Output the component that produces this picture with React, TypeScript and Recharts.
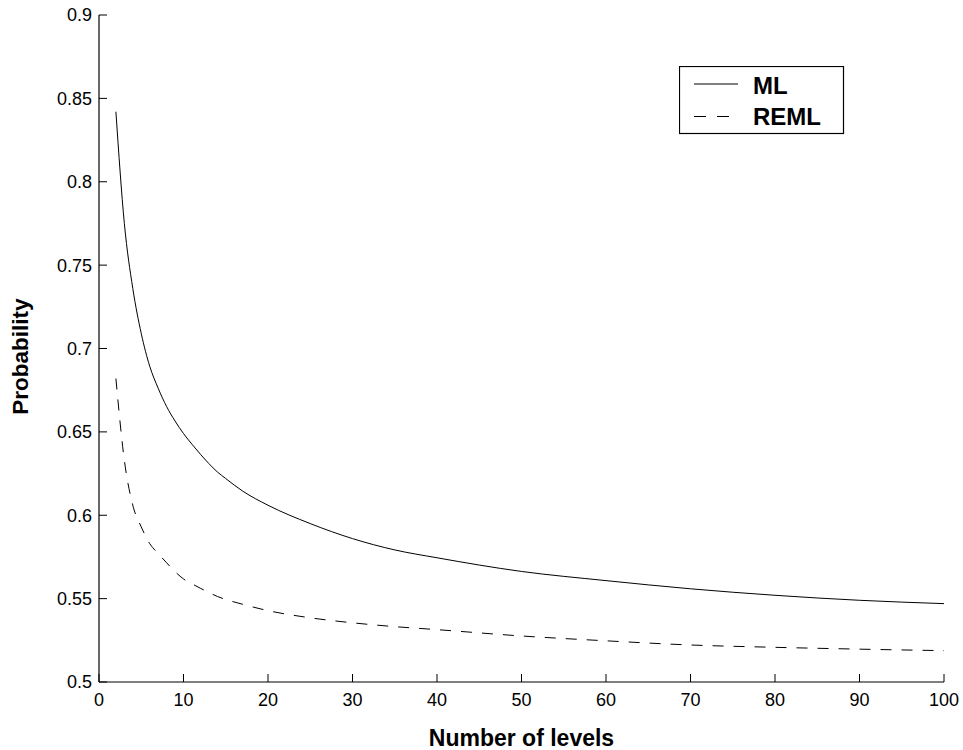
import React from 'react';
import { LineChart, Line, XAxis, YAxis, Legend } from 'recharts';

const levels = [2, 3, 4, 5, 6, 7, 8, 9, 10, 11, 12, 13, 14, 15, 17, 20, 25, 30, 35, 40, 50, 60, 70, 80, 90, 100];
const mlValues = [0.842, 0.775, 0.736, 0.709, 0.6894, 0.6762, 0.6652, 0.6565, 0.649, 0.6426, 0.6366, 0.631, 0.626, 0.622, 0.6145, 0.606, 0.595, 0.586, 0.5792, 0.5745, 0.5663, 0.5608, 0.5559, 0.552, 0.549, 0.547];
const remlValues = [0.682, 0.633, 0.606, 0.593, 0.583, 0.5771, 0.5715, 0.5662, 0.5618, 0.5589, 0.5562, 0.5537, 0.5513, 0.5495, 0.5466, 0.5428, 0.5385, 0.5355, 0.5332, 0.5314, 0.5276, 0.5247, 0.5222, 0.5208, 0.5197, 0.5188];
const xTicks = [0, 10, 20, 30, 40, 50, 60, 70, 80, 90, 100];
const yTicks = [0.5, 0.55, 0.6, 0.65, 0.7, 0.75, 0.8, 0.85, 0.9];
const seriesNames = ['ML', 'REML'];

const data = levels.map((x, i) => ({ x, ml: mlValues[i], reml: remlValues[i] }));

const FONT = '"Liberation Sans", Arial, Helvetica, sans-serif';
const TICK_LEN = 8;

const BottomTick = (props: any) => {
  const { x, y, payload } = props;
  return (
    <g>
      <line x1={x} x2={x} y1={y} y2={y - TICK_LEN} stroke="#000" strokeWidth={1} />
      <text x={x} y={y + 24} textAnchor="middle" fontSize={18} fontFamily={FONT} fill="#000">
        {payload.value}
      </text>
    </g>
  );
};

const TopTick = (props: any) => {
  const { x, y } = props;
  return <line x1={x} x2={x} y1={y} y2={y + TICK_LEN} stroke="#000" strokeWidth={1} />;
};

const LeftTick = (props: any) => {
  const { x, y, payload } = props;
  return (
    <g>
      <line x1={x} x2={x + TICK_LEN} y1={y} y2={y} stroke="#000" strokeWidth={1} />
      <text x={x - 7} y={y} dy="0.36em" textAnchor="end" fontSize={18} fontFamily={FONT} fill="#000">
        {String(payload.value)}
      </text>
    </g>
  );
};

const RightTick = (props: any) => {
  const { x, y } = props;
  return <line x1={x} x2={x - TICK_LEN} y1={y} y2={y} stroke="#000" strokeWidth={1} />;
};

const LegendBox = (props: any) => {
  const payload = props.payload || [];
  return (
    <svg width={166} height={69} style={{ display: 'block' }}>
      <rect x={0.5} y={0.5} width={164} height={67} fill="#fff" stroke="#000" strokeWidth={1.2} />
      {payload.map((entry: any, i: number) => {
        const ly = i === 0 ? 18 : 50.5;
        const ty = i === 0 ? 28 : 59;
        const dash = entry.payload && entry.payload.strokeDasharray;
        return (
          <g key={i}>
            <line x1={15} x2={dash ? 50 : 59} y1={ly} y2={ly} stroke="#000" strokeWidth={1} strokeDasharray={dash ? '12 11' : undefined} />
            <text x={74} y={ty} fontSize={24} fontWeight="bold" fontFamily={FONT} fill="#000">
              {entry.value}
            </text>
          </g>
        );
      })}
    </svg>
  );
};

const YLabel = (props: any) => {
  const vb = props.viewBox || {};
  const cy = vb.y + vb.height / 2 + 8;
  const cx = 20;
  return (
    <text
      x={cx}
      y={cy}
      transform={`rotate(-90, ${cx}, ${cy})`}
      textAnchor="middle"
      dy="0.36em"
      fontSize={22.5}
      fontWeight="bold"
      fontFamily={FONT}
      fill="#000"
    >
      Probability
    </text>
  );
};

const XLabel = (props: any) => {
  const vb = props.viewBox || {};
  const cx = vb.x + vb.width / 2;
  const cy = vb.y + vb.height;
  return (
    <text x={cx} y={cy + 34} textAnchor="middle" fontSize={23} fontWeight="bold" fontFamily={FONT} fill="#000">
      Number of levels
    </text>
  );
};

export default function App() {
  return (
    <div style={{ width: 963, height: 750, background: '#fff', fontFamily: FONT }}>
      <style>{'html, body { margin: 0; padding: 0; overflow: hidden; }'}</style>
      <LineChart width={963} height={750} data={data} margin={{ top: 15, right: 19, bottom: 38, left: 0 }}>
        <XAxis
          dataKey="x"
          type="number"
          domain={[0, 100]}
          ticks={xTicks}
          tickSize={0}
          tickMargin={0}
          tickLine={false}
          tick={<BottomTick />}
          height={30}
          axisLine={{ stroke: '#000', strokeWidth: 1.2 }}
          interval={0}
          label={<XLabel />}
        />
        <XAxis
          xAxisId="top"
          orientation="top"
          dataKey="x"
          type="number"
          domain={[0, 100]}
          ticks={xTicks}
          tickSize={0}
          tickMargin={0}
          tickLine={false}
          tick={<TopTick />}
          height={0}
          axisLine={{ stroke: '#000', strokeWidth: 1.2 }}
          interval={0}
        />
        <YAxis
          type="number"
          domain={[0.5, 0.9]}
          ticks={yTicks}
          allowDataOverflow
          tickSize={0}
          tickMargin={0}
          tickLine={false}
          tick={<LeftTick />}
          width={99}
          axisLine={{ stroke: '#000', strokeWidth: 1.2 }}
          interval={0}
          label={<YLabel />}
        />
        <YAxis
          yAxisId="right"
          orientation="right"
          type="number"
          domain={[0.5, 0.9]}
          ticks={yTicks}
          allowDataOverflow
          tickSize={0}
          tickMargin={0}
          tickLine={false}
          tick={<RightTick />}
          width={0}
          axisLine={{ stroke: '#000', strokeWidth: 1.2 }}
          interval={0}
        />
        <Line
          type="monotone"
          dataKey="ml"
          name={seriesNames[0]}
          stroke="#000"
          strokeWidth={1}
          dot={false}
          isAnimationActive={false}
        />
        <Line
          type="monotone"
          dataKey="reml"
          name={seriesNames[1]}
          stroke="#000"
          strokeWidth={1}
          strokeDasharray="11 10"
          dot={false}
          isAnimationActive={false}
        />
        <Legend
          layout="vertical"
          align="center"
          verticalAlign="middle"
          wrapperStyle={{ left: 679, top: 66, width: 166, height: 69 }}
          content={<LegendBox />}
        />
      </LineChart>
    </div>
  );
}
